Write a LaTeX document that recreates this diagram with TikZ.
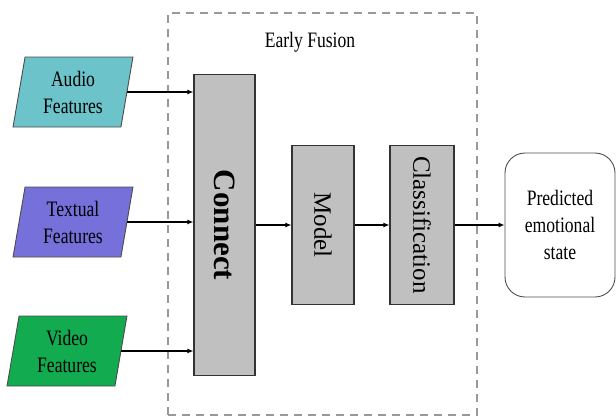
\documentclass[tikz,border=0pt]{standalone}
\usepackage{fontspec}
\setmainfont{Liberation Serif}[FakeStretch=0.8]
\newfontfamily\blockfont{Liberation Serif}
\usetikzlibrary{shapes.geometric, arrows.meta, positioning}

\definecolor{audiocol}{HTML}{6CC3C9}
\definecolor{textcol}{HTML}{7570DA}
\definecolor{videocol}{HTML}{12AB50}
\definecolor{blockcol}{HTML}{C0C0C0}

\begin{document}
\begin{tikzpicture}[
    x=1pt, y=-1pt,
    txt/.style={font=\fontsize{22}{27}\selectfont, align=center},
    feat/.style={txt, draw=black!70, line width=0.9pt, trapezium, trapezium left angle=80,
                 trapezium right angle=100, trapezium stretches=true,
                 minimum width=120, minimum height=70, inner sep=0pt},
    block/.style={draw=black!80, line width=1.1pt, fill=blockcol, inner sep=0pt,
                  font=\blockfont\fontsize{25}{27}\selectfont},
    outbox/.style={txt, draw=black!70, line width=0.9pt, rounded corners=20pt,
                   minimum width=110, minimum height=144, inner sep=0pt},
    arr/.style={-{Latex[length=6pt, width=5pt]}, line width=1.6pt}
]
\useasboundingbox (0,0) rectangle (616,416);

% early fusion frame
\node[draw=black!40, dashed, dash pattern=on 8pt off 6pt, line width=1.2pt,
      minimum width=309, minimum height=402, inner sep=0pt] (fusion) at (322.5,214) {};
\node[txt] (title) at (310,42) {Early Fusion};

% input features
\node[feat, fill=audiocol] (audio) at (73,92) {Audio\\Features};
\node[feat, fill=textcol] (textual) at (73,222) {Textual\\Features};
\node[feat, fill=videocol] (video) at (67,351) {Video\\Features};

% fusion pipeline
\node[block, minimum width=61, minimum height=301] (connect) at (224.5,225)
    {\rotatebox{-90}{\fontsize{31}{33}\selectfont\bfseries Connect}};
\node[block, minimum width=62, minimum height=159] (model) at (323,225)
    {\rotatebox{-90}{Model}};
\node[block, minimum width=64, minimum height=159] (classif) at (422,225)
    {\rotatebox{-90}{Classification}};

\node[outbox] (predicted) at (560,225) {Predicted\\emotional\\state};

\foreach \f in {audio, textual, video}
    \draw[arr] (\f.east) -- (\f.east -| connect.west);
\draw[arr] (connect) -- (model);
\draw[arr] (model) -- (classif);
\draw[arr] (classif) -- (predicted);
\end{tikzpicture}
\end{document}
